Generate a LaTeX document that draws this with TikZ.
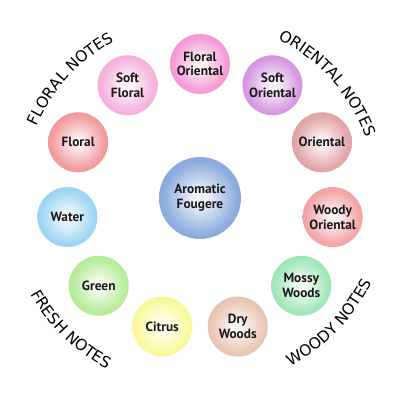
\documentclass[tikz,border=0pt]{standalone}
\usepackage{fontspec}
\setmainfont{PT Sans}
\newfontfamily\notefont{DejaVu Sans}
\usetikzlibrary{decorations.text}
\definecolor{cFlorOr}{HTML}{F27DC6}
\definecolor{cSoftFl}{HTML}{F39AD2}
\definecolor{cFloral}{HTML}{EE7D82}
\definecolor{cWater}{HTML}{7EC9F0}
\definecolor{cGreen}{HTML}{A2E67A}
\definecolor{cCitrus}{HTML}{F8F67E}
\definecolor{cDry}{HTML}{C9AB82}
\definecolor{cMossy}{HTML}{84E0A2}
\definecolor{cWoodyOr}{HTML}{F08A8C}
\definecolor{cOrient}{HTML}{D88A8C}
\definecolor{cSoftOr}{HTML}{C97AD9}
\definecolor{cArom}{HTML}{6A93D3}
\colorlet{pebin}{white}
\colorlet{pebmid}{gray!50}
\colorlet{pebout}{gray}
\pgfdeclareradialshading[pebin,pebmid,pebout]{pebble}{\pgfpoint{0bp}{0bp}}{color(0bp)=(pebin); color(4bp)=(pebin); color(22bp)=(pebmid); color(38bp)=(pebout); color(50bp)=(pebout)}
\tikzset{pb/.style={circle, minimum size=1.5cm, inner sep=0pt, align=center, shade, shading=pebble, text=black!90, font=\bfseries\fontsize{9.5}{10.5}\selectfont}}
\tikzset{tone/.code={\colorlet{pebout}{#1}\colorlet{pebmid}{#1!75!white}\colorlet{pebin}{#1!12!white}}}
\tikzset{core/.code={\colorlet{pebmid}{#1}}}
\tikzset{notes/.style={decorate, decoration={text along path, text align=center, text={|\notefont\fontsize{11}{11}\selectfont|#1}}}}

\begin{document}
\begin{tikzpicture}
                \useasboundingbox (-5,-5.05) rectangle (5,4.95);
                % ring of notes
                \node[pb,tone=cFlorOr] (florOr) at (90:3.35) {Floral\\Oriental};
                \node[pb,tone=cSoftOr] (softOr) at (57.27:3.35) {Soft\\Oriental};
                \node[pb,tone=cOrient] (orient) at (24.55:3.35) {Oriental};
                \node[pb,tone=cWoodyOr] (woodyOr) at (-8.18:3.35) {Woody\\Oriental};
                \node[pb,tone=cMossy] (mossy) at (-40.91:3.35) {Mossy\\Woods};
                \node[pb,tone=cDry,core=cDry!50!pink!75!white] (dry) at (-73.64:3.35) {Dry\\Woods};
                \node[pb,tone=cCitrus] (citrus) at (-106.36:3.35) {Citrus};
                \node[pb,tone=cGreen] (green) at (-139.09:3.35) {Green};
                \node[pb,tone=cWater] (water) at (-171.82:3.35) {Water};
                \node[pb,tone=cFloral] (floral) at (155.45:3.35) {Floral};
                \node[pb,tone=cSoftFl] (softFl) at (122.73:3.35) {Soft\\Floral};
                % centre
                \node[pb,tone=cArom,minimum size=2.05cm] (arom) at (0,0) {Aromatic\\Fougere};
                % family names
                \path[notes={FLORAL NOTES}] (162:4.47) arc[start angle=162, end angle=113, radius=4.47];
                \path[notes={ORIENTAL NOTES}] (70:4.42) arc[start angle=70, end angle=14, radius=4.42];
                \path[notes={FRESH NOTES}] (-160:4.87) arc[start angle=-160, end angle=-109, radius=4.87];
                \path[notes={WOODY NOTES}] (-70:4.78) arc[start angle=-70, end angle=-18, radius=4.78];
            \end{tikzpicture}
\end{document}
